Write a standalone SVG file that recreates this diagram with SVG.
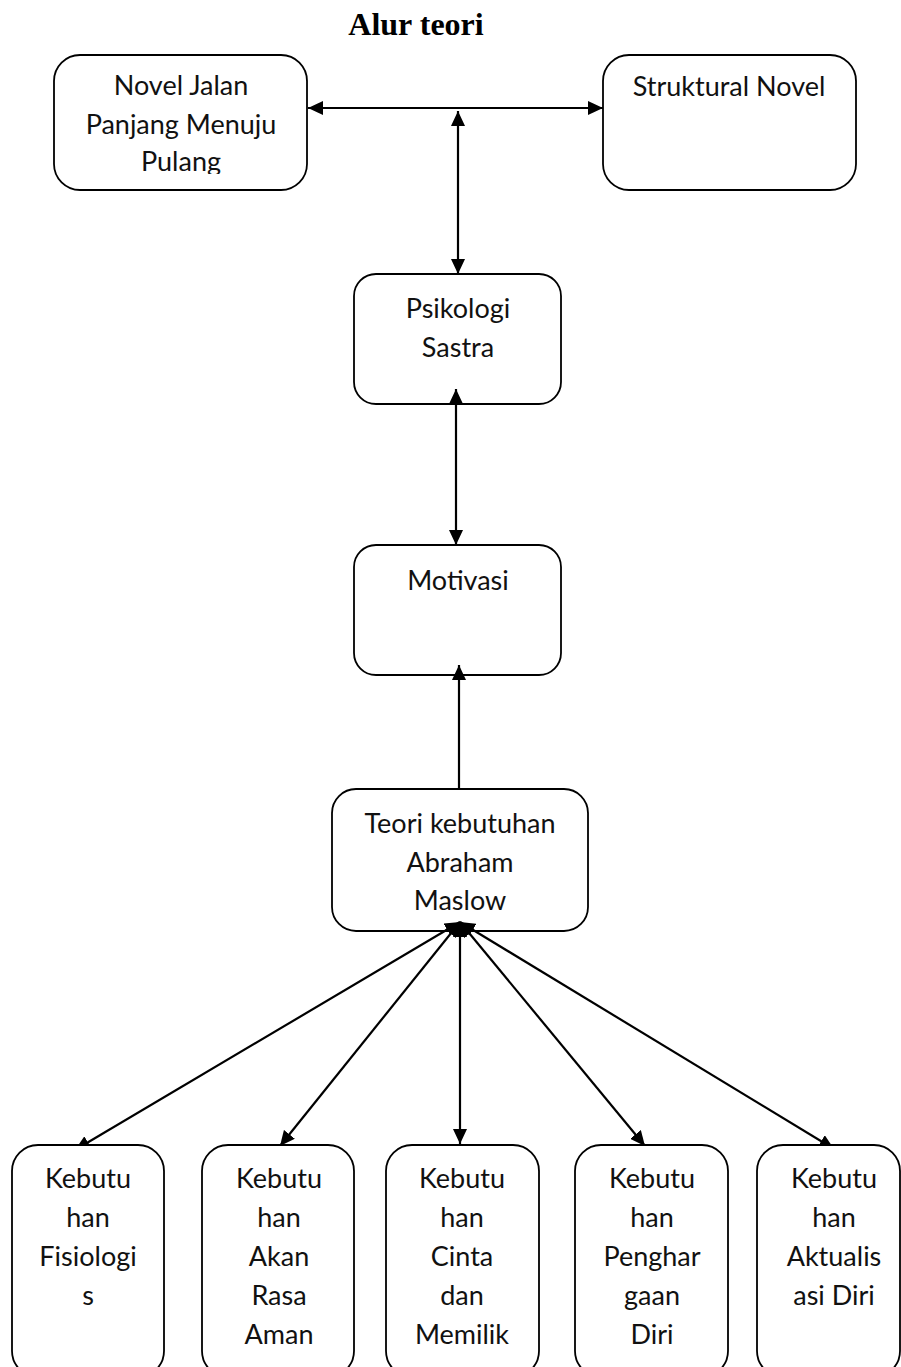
<svg xmlns="http://www.w3.org/2000/svg" width="901" height="1367" viewBox="0 0 901 1367">
<style>
.box{fill:#fff;stroke:#000;stroke-width:1.8}
.t{font-family:Lato,"Liberation Sans",sans-serif;font-size:27px;fill:#111;text-anchor:middle}
.title{font-family:"Liberation Serif",serif;font-weight:bold;font-size:32px;fill:#000;text-anchor:middle}
.ln{stroke:#000;stroke-width:2.2;fill:none;marker-start:url(#ah);marker-end:url(#ah)}
.ln1{stroke:#000;stroke-width:2.2;fill:none;marker-end:url(#ah)}
</style>
<defs>
<marker id="ah" viewBox="0 0 15 14" refX="15" refY="7" markerWidth="15" markerHeight="14" orient="auto-start-reverse" markerUnits="userSpaceOnUse">
<path d="M0,0 L15,7 L0,14 z" fill="#000"/>
</marker>
<clipPath id="c1"><rect x="54" y="55" width="253" height="119"/></clipPath>
</defs>
<rect width="901" height="1367" fill="#fff"/>
<text class="title" x="416" y="35">Alur teori</text>

<g id="novel">
<rect class="box" x="54" y="55" width="253" height="135" rx="26"/>
<g clip-path="url(#c1)">
<text class="t" x="181" y="95">Novel Jalan</text>
<text class="t" x="181" y="134">Panjang Menuju</text>
<text class="t" x="181" y="171">Pulang</text>
</g>
</g>

<g id="struktural">
<rect class="box" x="603" y="55" width="253" height="135" rx="26"/>
<text class="t" x="729" y="96">Struktural Novel</text>
</g>

<g id="psikologi">
<rect class="box" x="354" y="274" width="207" height="130" rx="22"/>
<text class="t" x="458" y="318">Psikologi</text>
<text class="t" x="458" y="357">Sastra</text>
</g>

<g id="motivasi">
<rect class="box" x="354" y="545" width="207" height="130" rx="22"/>
<text class="t" x="458" y="590">Motivasi</text>
</g>

<g id="maslow">
<rect class="box" x="332" y="789" width="256" height="142" rx="24"/>
<text class="t" x="460" y="833">Teori kebutuhan</text>
<text class="t" x="460" y="872">Abraham</text>
<text class="t" x="460" y="910">Maslow</text>
</g>

<g id="connectors">
<line class="ln" x1="308" y1="108" x2="603" y2="108"/>
<line class="ln" x1="458" y1="111" x2="458" y2="274"/>
<line class="ln" x1="456" y1="389" x2="456" y2="545"/>
<line class="ln1" x1="459" y1="789" x2="459" y2="665"/>
<line class="ln" x1="460" y1="922" x2="75" y2="1150"/>
<line class="ln" x1="460" y1="922" x2="280" y2="1146"/>
<line class="ln" x1="460" y1="922" x2="460" y2="1144"/>
<line class="ln" x1="460" y1="922" x2="645" y2="1146"/>
<line class="ln" x1="460" y1="922" x2="834" y2="1149"/>
</g>

<g id="fisiologis">
<rect class="box" x="12" y="1145" width="152" height="232" rx="26"/>
<text class="t" x="88" y="1188">Kebutu</text>
<text class="t" x="88" y="1227">han</text>
<text class="t" x="88" y="1266">Fisiologi</text>
<text class="t" x="88" y="1305">s</text>
</g>

<g id="rasa-aman">
<rect class="box" x="202" y="1145" width="152" height="232" rx="26"/>
<text class="t" x="279" y="1188">Kebutu</text>
<text class="t" x="279" y="1227">han</text>
<text class="t" x="279" y="1266">Akan</text>
<text class="t" x="279" y="1305">Rasa</text>
<text class="t" x="279" y="1344">Aman</text>
</g>

<g id="cinta">
<rect class="box" x="386" y="1145" width="153" height="232" rx="26"/>
<text class="t" x="462" y="1188">Kebutu</text>
<text class="t" x="462" y="1227">han</text>
<text class="t" x="462" y="1266">Cinta</text>
<text class="t" x="462" y="1305">dan</text>
<text class="t" x="462" y="1344">Memilik</text>
</g>

<g id="penghargaan">
<rect class="box" x="575" y="1145" width="153" height="232" rx="26"/>
<text class="t" x="652" y="1188">Kebutu</text>
<text class="t" x="652" y="1227">han</text>
<text class="t" x="652" y="1266">Penghar</text>
<text class="t" x="652" y="1305">gaan</text>
<text class="t" x="652" y="1344">Diri</text>
</g>

<g id="aktualisasi">
<rect class="box" x="757" y="1145" width="143" height="232" rx="26"/>
<text class="t" x="834" y="1188">Kebutu</text>
<text class="t" x="834" y="1227">han</text>
<text class="t" x="834" y="1266">Aktualis</text>
<text class="t" x="834" y="1305">asi Diri</text>
</g>
</svg>
